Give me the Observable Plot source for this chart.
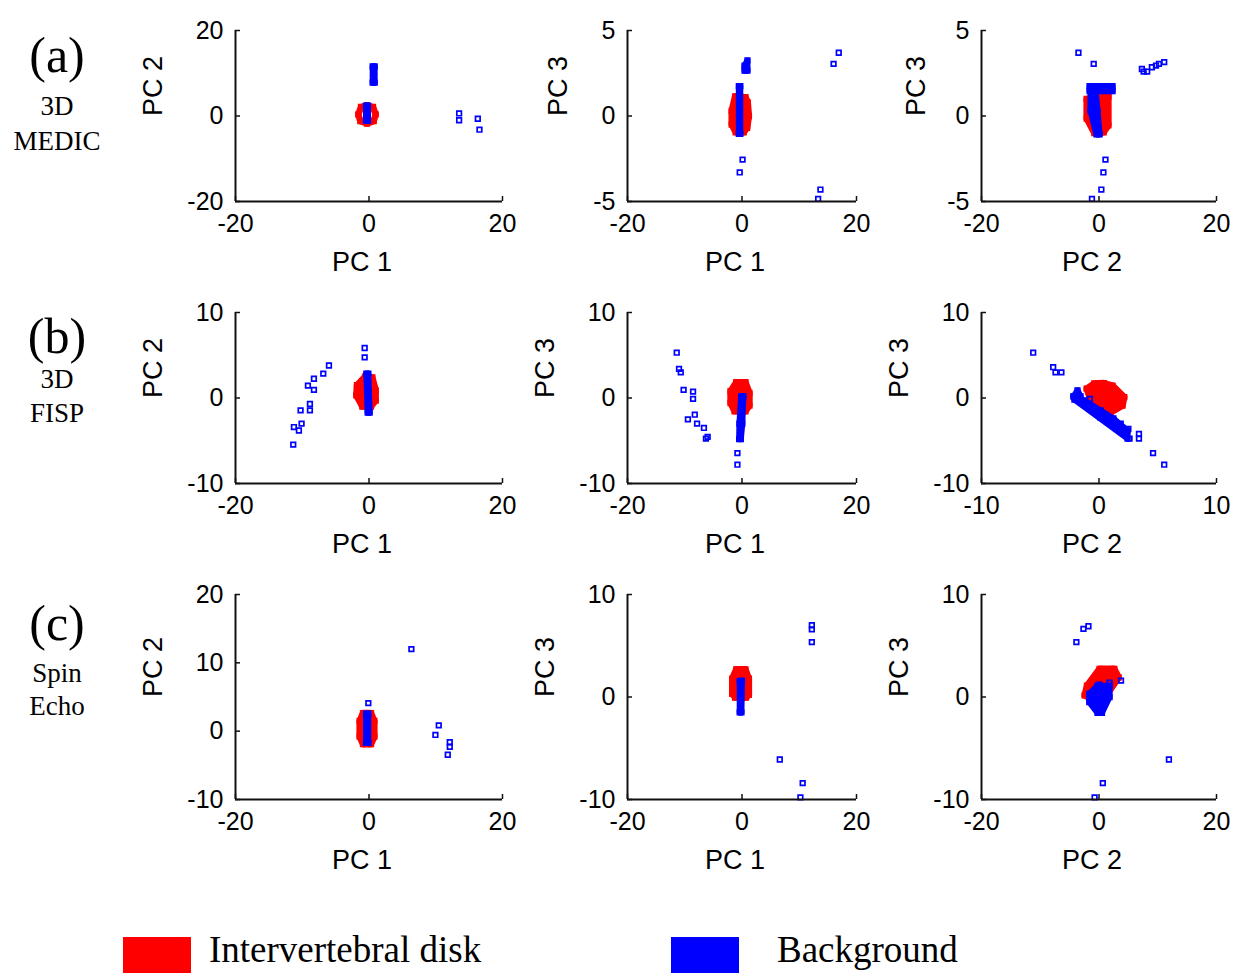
<!DOCTYPE html>
<html><head><meta charset="utf-8">
<script src="https://cdn.jsdelivr.net/npm/d3@7"></script>
<script src="https://cdn.jsdelivr.net/npm/@observablehq/plot@0.6"></script>
<style>
html,body{margin:0;padding:0;background:#fff;}
#wrap{position:relative;width:1233px;height:973px;overflow:hidden;background:#fff;}
#overlay{position:absolute;left:0;top:0;}
</style></head><body><div id="wrap"></div>
<script>
// ---- tick labels ----
const ticks20 = [-20, 0, 20];
const ticks10 = [-10, 0, 10];
const ticks5 = [-5, 0, 5];
const ticksC1y = [-10, 0, 10, 20];

// ---- rows / legend text ----
const rowTags = ["(a)", "(b)", "(c)"];
const rowNames = [["3D", "MEDIC"], ["3D", "FISP"], ["Spin", "Echo"]];
const legendNames = ["Intervertebral disk", "Background"];

// ---- data: red = intervertebral disk cluster outline, blue = background [x, y, group], out = isolated background points ----
const a1_red = [[-0.3,2.5],[0.6,2.1],[1.0,0.4],[0.7,-1.2],[-0.3,-1.75],[-1.3,-1.2],[-1.6,0.4],[-1.2,2.1]];
const a1_blue = [[-0.45,2.4,0],[-0.15,2.4,0],[-0.15,-1.1,0],[-0.45,-1.1,0],[0.55,11.6,1],[0.85,11.6,1],[0.85,7.8,1],[0.55,7.8,1]];
const a1_out = [[13.5,0.6],[13.5,-1.0],[16.3,-0.65],[16.55,-3.2]];

const a2_red = [[-1.2,1.15],[0.6,1.1],[1.0,0.8],[1.2,0.0],[0.9,-0.7],[0.3,-0.95],[-1.1,-0.95],[-1.8,-0.5],[-1.8,0.3]];
const a2_blue = [[-0.55,1.75,0],[-0.3,1.75,0],[-0.3,-1.05,0],[-0.55,-1.05,0],[0.45,2.65,1],[0.95,2.65,1],[0.95,3.25,1],[0.45,2.95,1]];
const a2_out = [[16.9,3.7],[16.0,3.05],[0.1,-2.55],[-0.4,-3.3],[13.7,-4.3],[13.3,-4.85]];

const a3_red = [[-2.1,1.0],[1.6,1.15],[1.6,-0.55],[0.8,-0.95],[-0.8,-1.0],[-2.1,-0.15]];
const a3_blue = [[-1.6,1.75,0],[2.3,1.75,0],[2.3,1.45,0],[-1.6,1.45,0],[-1.45,1.6,1],[-0.6,1.6,1],[-0.25,0.3,1],[0.1,-1.08,1],[-0.43,-1.08,1],[-1.45,0.3,1]];
const a3_out = [[-3.5,3.7],[-0.9,3.05],[7.3,2.75],[7.6,2.6],[8.2,2.6],[9.0,2.85],[9.7,2.95],[10.2,3.05],[11.1,3.15],[1.1,-2.55],[0.75,-3.3],[0.4,-4.3],[-1.2,-4.85]];

const b1_red = [[-0.6,2.5],[0.5,2.4],[1.0,0.9],[1.0,-0.3],[0.3,-1.0],[-1.0,-1.0],[-1.9,0.3],[-1.8,1.5]];
const b1_blue = [[-0.4,2.85,0],[-0.1,2.85,0],[0.1,-1.7,0],[-0.2,-1.7,0]];
const b1_out = [[-0.65,5.85],[-0.65,4.75],[-6.0,3.8],[-6.85,2.85],[-8.25,2.25],[-9.15,1.45],[-8.25,0.95],[-8.85,-0.7],[-8.85,-1.45],[-10.25,-1.45],[-10.1,-3.0],[-10.5,-3.8],[-11.25,-3.4],[-11.35,-5.45]];

const b2_red = [[-1.0,1.85],[0.6,1.85],[1.3,0.6],[1.3,-0.9],[0.6,-1.55],[-1.3,-1.55],[-2.0,-0.6],[-2.0,0.8]];
const b2_blue = [[-0.15,0.2,0],[0.25,0.2,0],[0.05,-3.0,0],[-0.2,-4.8,0],[-0.5,-4.8,0],[-0.45,-3.0,0]];
const b2_out = [[-11.4,5.3],[-11.0,3.4],[-10.7,3.0],[-10.2,0.95],[-8.55,0.75],[-8.55,-0.1],[-9.45,-2.5],[-8.25,-1.95],[-7.85,-3.0],[-6.65,-3.5],[-6.0,-4.55],[-6.3,-4.75],[-0.8,-6.45],[-0.8,-7.8]];

const b3_red = [[-0.4,1.7],[0.4,1.75],[1.15,1.45],[2.15,0.1],[2.0,-0.9],[1.0,-1.7],[-0.7,-0.3],[-1.05,1.1]];
const b3_blue = [[-2.17,0.18,0],[-1.23,-0.29,0],[0.13,-1.46,0],[1.23,-2.4,0],[2.43,-3.8,0],[2.43,-4.74,0],[1.49,-3.57,0],[0.13,-2.28,0],[-2.09,-0.18,0],
                 [-1.83,0.88,1],[-2.17,0.18,1],[-1.57,0.18,1]];
const b3_out = [[-5.6,5.3],[-3.9,3.6],[-3.7,3.0],[-3.2,3.0],[-0.78,-0.1],[1.85,-3.0],[2.5,-3.6],[2.6,-4.75],[3.4,-4.2],[3.4,-4.75],[4.6,-6.45],[5.55,-7.8]];

const c1_red = [[-0.9,2.65],[0.3,2.65],[0.8,1.5],[0.8,-0.8],[0.3,-1.9],[-0.9,-1.9],[-1.4,-0.8],[-1.4,1.5]];
const c1_blue = [[-0.45,2.55,0],[-0.1,2.55,0],[-0.1,-1.7,0],[-0.45,-1.7,0]];
const c1_out = [[6.35,12.0],[-0.1,4.1],[10.45,0.85],[9.95,-0.55],[12.1,-1.6],[12.1,-2.3],[11.8,-3.45]];

const c2_red = [[-1.0,2.7],[0.6,2.7],[1.2,1.8],[1.2,0.2],[0.7,-0.05],[-1.2,-0.05],[-1.7,0.3],[-1.7,1.8]];
const c2_blue = [[-0.4,1.55,0],[0.0,1.6,0],[-0.1,-1.5,0],[-0.4,-1.5,0]];
const c2_out = [[12.2,7.0],[12.2,6.6],[12.2,5.35],[6.6,-6.1],[10.6,-8.4],[10.2,-9.8]];

const c3_red = [[0.1,2.75],[2.6,2.75],[3.35,1.9],[1.45,0.3],[-1.3,-0.2],[-2.45,0.15],[-2.05,1.1]];
const c3_blue = [[-1.65,0.3,0],[-0.25,1.1,0],[1.8,1.1,0],[1.8,0.0,0],[0.5,-1.55,0],[-0.25,-1.55,0],[-1.65,-0.5,0]];
const c3_out = [[-3.85,5.35],[-2.65,6.65],[-1.8,6.9],[3.75,1.6],[1.8,1.4],[0.05,1.2],[11.9,-6.1],[0.65,-8.4],[-0.75,-9.8]];

// ---- layout (pixel frame of each axes) ----
const RED = "#ff0000", BLUE = "#0000ff", AX = "#111";
const SANS = "'Liberation Sans', Arial, Helvetica, sans-serif";
const SERIF = "'Liberation Serif', 'Times New Roman', serif";
const COLS = [[235, 502], [627, 856], [981, 1216]];
const ROWS = [[30, 201], [312, 483], [594, 799]];

const panels = [
  {r:0,c:0, xd:[-20,20], yd:[-20,20], xt:ticks20, yt:ticks20, xl:"PC 1", yl:"PC 2", ylo:82, red:a1_red, redFill:false, blue:a1_blue, out:a1_out},
  {r:0,c:1, xd:[-20,20], yd:[-5,5], xt:ticks20, yt:ticks5, xl:"PC 1", yl:"PC 3", ylo:69, red:a2_red, redFill:true, blue:a2_blue, out:a2_out},
  {r:0,c:2, xd:[-20,20], yd:[-5,5], xt:ticks20, yt:ticks5, xl:"PC 2", yl:"PC 3", ylo:65, red:a3_red, redFill:true, blue:a3_blue, out:a3_out},
  {r:1,c:0, xd:[-20,20], yd:[-10,10], xt:ticks20, yt:ticks10, xl:"PC 1", yl:"PC 2", ylo:82, red:b1_red, redFill:true, blue:b1_blue, out:b1_out},
  {r:1,c:1, xd:[-20,20], yd:[-10,10], xt:ticks20, yt:ticks10, xl:"PC 1", yl:"PC 3", ylo:82, red:b2_red, redFill:true, blue:b2_blue, out:b2_out},
  {r:1,c:2, xd:[-10,10], yd:[-10,10], xt:ticks10, yt:ticks10, xl:"PC 2", yl:"PC 3", ylo:82, red:b3_red, redFill:true, blue:b3_blue, out:b3_out},
  {r:2,c:0, xd:[-20,20], yd:[-10,20], xt:ticks20, yt:ticksC1y, xl:"PC 1", yl:"PC 2", ylo:82, red:c1_red, redFill:true, blue:c1_blue, out:c1_out},
  {r:2,c:1, xd:[-20,20], yd:[-10,10], xt:ticks20, yt:ticks10, xl:"PC 1", yl:"PC 3", ylo:82, red:c2_red, redFill:true, blue:c2_blue, out:c2_out},
  {r:2,c:2, xd:[-20,20], yd:[-10,10], xt:ticks20, yt:ticks10, xl:"PC 2", yl:"PC 3", ylo:82, red:c3_red, redFill:true, blue:c3_blue, out:c3_out}
];

const wrap = document.getElementById("wrap");
const X = d => d[0], Y = d => d[1], G = d => d[2];
const mL = 120, mR = 40, mT = 25, mB = 95;

for (const p of panels) {
  const [left, right] = COLS[p.c], [top, bottom] = ROWS[p.r];
  const W = right - left, H = bottom - top;
  const sq = {x: X, y: Y, symbol: "square", r: 2.6, strokeWidth: 1.7, fill: "none"};
  const svg = Plot.plot({
    width: W + mL + mR, height: H + mT + mB,
    marginLeft: mL, marginRight: mR, marginTop: mT, marginBottom: mB,
    x: {domain: p.xd}, y: {domain: p.yd},
    style: {fontFamily: SANS, fontSize: "25px", background: "transparent", overflow: "visible", color: "#000"},
    marks: [
      Plot.hull(p.red, {x: X, y: Y, fill: p.redFill ? RED : "none", stroke: RED, strokeWidth: 6.5, strokeLinejoin: "round"}),
      Plot.dot(p.red, {...sq, stroke: RED}),
      Plot.hull(p.blue, {x: X, y: Y, z: G, fill: BLUE, stroke: BLUE, strokeWidth: 6, strokeLinejoin: "round"}),
      Plot.dot(p.blue, {...sq, stroke: BLUE}),
      Plot.dot(p.out, {...sq, stroke: BLUE}),
      Plot.ruleX([p.xd[0]], {stroke: AX, strokeWidth: 2}),
      Plot.ruleY([p.yd[0]], {stroke: AX, strokeWidth: 2}),
      Plot.tickX(p.xt, {x: d => d, insetTop: H - 5, stroke: AX, strokeWidth: 1.5}),
      Plot.tickY(p.yt, {y: d => d, insetRight: W - 5, stroke: AX, strokeWidth: 1.5}),
      Plot.axisX({ticks: p.xt, anchor: "bottom", tickSize: 0, tickPadding: 13, tickFormat: d => String(d), label: null, fill: "#000"}),
      Plot.axisY({ticks: p.yt, anchor: "left", tickSize: 0, tickPadding: 12, tickFormat: d => String(d), label: null, fill: "#000"}),
      Plot.text([p.xl], {text: d => d, frameAnchor: "bottom", dy: 61, dx: -7, fontSize: 27, lineAnchor: "middle", fill: "#000"}),
      Plot.text([p.yl], {text: d => d, frameAnchor: "left", dx: -p.ylo, rotate: -90, fontSize: 27, lineAnchor: "middle", fill: "#000"})
    ]
  });
  svg.style.position = "absolute";
  svg.style.left = (left - mL) + "px";
  svg.style.top = (top - mT) + "px";
  svg.style.maxWidth = "none";
  wrap.appendChild(svg);
}

// ---- row labels and legend ----
const NS = "http://www.w3.org/2000/svg";
const ov = document.createElementNS(NS, "svg");
ov.setAttribute("id", "overlay");
ov.setAttribute("width", 1233); ov.setAttribute("height", 973);
function txt(s, x, y, size, anchor) {
  const t = document.createElementNS(NS, "text");
  t.setAttribute("x", x); t.setAttribute("y", y);
  t.setAttribute("font-family", SERIF); t.setAttribute("font-size", size);
  t.setAttribute("text-anchor", anchor); t.setAttribute("fill", "#000");
  t.textContent = s; ov.appendChild(t);
}
const tagBase = [72, 353, 640];
const nameBase = [[115, 150], [388, 422], [682, 715]];
rowTags.forEach((s, i) => {
  txt(s, 57, tagBase[i], 50, "middle");
  txt(rowNames[i][0], 57, nameBase[i][0], 27, "middle");
  txt(rowNames[i][1], 57, nameBase[i][1], 27, "middle");
});
const legendCols = [RED, BLUE];
const swX = [123, 671], txX = [209, 777];
legendNames.forEach((s, i) => {
  const r = document.createElementNS(NS, "rect");
  r.setAttribute("x", swX[i]); r.setAttribute("y", 937);
  r.setAttribute("width", 68); r.setAttribute("height", 60);
  r.setAttribute("fill", legendCols[i]); ov.appendChild(r);
  txt(s, txX[i], 962, 37, "start");
});
wrap.appendChild(ov);
</script>
</body></html>
